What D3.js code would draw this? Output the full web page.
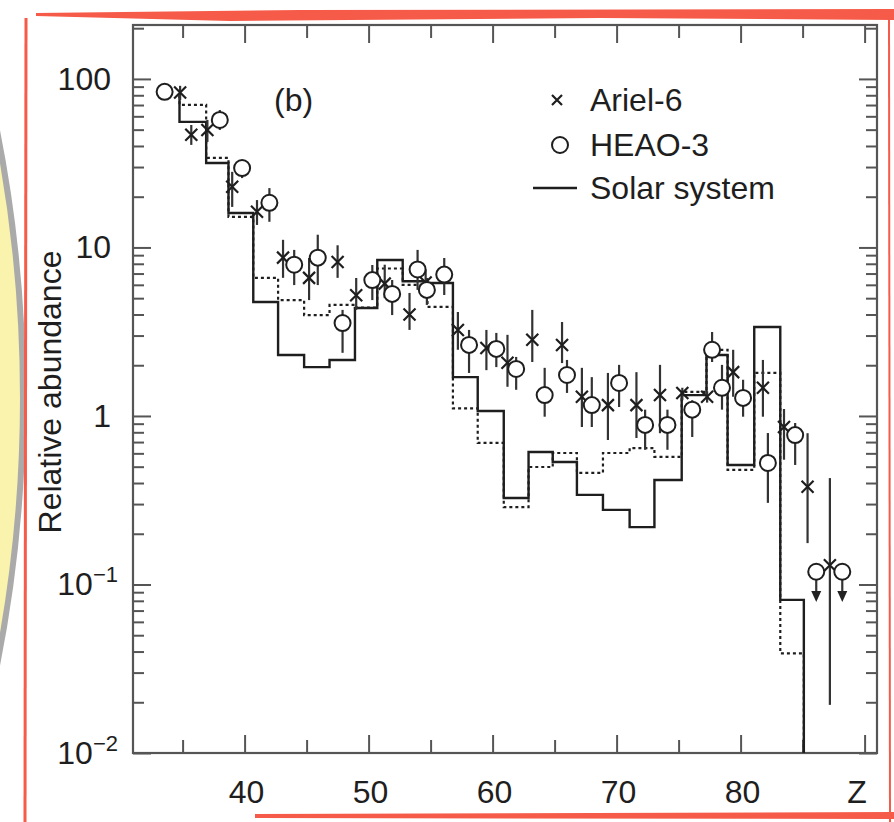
<!DOCTYPE html>
<html>
<head>
<meta charset="utf-8">
<script src="https://cdn.jsdelivr.net/npm/d3@7"></script>
<style>
  body { margin: 0; background: #fff; }
  svg { display: block; font-family: "Liberation Sans", Arial, sans-serif; }
</style>
</head>
<body>
<div id="chart"></div>
<script>
// Ariel-6 (crosses)
const arielZ = [34.8, 35.7, 37.0, 39.0, 41.0, 43.1, 45.2, 47.5, 49.0, 51.3, 53.3, 54.6, 57.2, 59.5, 61.2, 63.2, 65.6, 67.2, 69.3, 71.6, 73.5, 75.3, 77.3, 79.4, 81.8, 83.5, 85.4, 87.2];
const arielV = [83, 46.6, 49.8, 22.9, 16.3, 8.7, 6.6, 8.2, 5.2, 6.1, 4.0, 6.2, 3.24, 2.53, 2.07, 2.83, 2.64, 1.30, 1.16, 1.16, 1.33, 1.37, 1.30, 1.82, 1.47, 0.86, 0.38, 0.13];
const arielLo = [75, 40.6, 42.3, 17.4, 13.6, 6.6, 4.87, 6.6, 4.26, 5.0, 3.24, 5.2, 2.47, 1.87, 1.49, 2.09, 2.06, 0.86, 0.72, 0.74, 0.79, 1.24, 1.2, 1.30, 0.99, 0.55, 0.176, 0.0193];
const arielHi = [91, 53.3, 57.1, 28.1, 19.1, 11.1, 8.66, 10.3, 6.59, 7.9, 5.37, 7.4, 4.14, 3.24, 3.03, 4.26, 3.61, 1.93, 1.80, 1.82, 2.01, 1.47, 1.4, 2.47, 2.15, 1.1, 0.79, 0.428];

// HEAO-3 (open circles)
const heaoZ = [33.55, 38.0, 39.8, 42.0, 44.0, 45.9, 47.9, 50.3, 51.9, 53.95, 54.7, 56.1, 58.1, 60.3, 61.9, 64.2, 66.0, 68.0, 70.2, 72.3, 74.1, 76.1, 77.7, 78.5, 80.2, 82.2, 84.4];
const heaoV = [83.8, 57.1, 29.6, 18.4, 7.9, 8.7, 3.56, 6.4, 5.3, 7.4, 5.6, 6.9, 2.64, 2.50, 1.90, 1.33, 1.75, 1.16, 1.57, 0.885, 0.885, 1.09, 2.47, 1.47, 1.28, 0.526, 0.77];
const heaoLo = [83.8, 49.8, 25.8, 14.2, 5.98, 5.98, 2.37, 4.87, 3.97, 5.6, 4.56, 5.22, 1.80, 1.95, 1.43, 0.99, 1.37, 0.86, 1.13, 0.63, 0.63, 0.75, 2.09, 1.09, 0.99, 0.305, 0.512];
const heaoHi = [83.8, 65.4, 33.0, 22.5, 9.67, 11.9, 4.26, 7.87, 6.41, 9.67, 6.59, 8.66, 3.24, 3.11, 2.24, 1.93, 2.15, 1.70, 2.01, 1.09, 1.09, 1.24, 3.15, 2.01, 1.64, 0.792, 0.908];

// HEAO-3 upper limits
const limitZ = [86.1, 88.2];
const limitV = [0.119, 0.119];
const limitTip = [0.0787, 0.0787];

// histograms: bin edges in Z, level per bin
const binEdges = [34.75, 36.9, 38.7, 40.7, 42.7, 44.8, 46.85, 48.9, 50.7, 52.75, 54.75, 56.8, 58.8, 60.9, 62.9, 64.85, 66.8, 68.9, 71.05, 73.05, 75.25, 77.25, 78.95, 81.1, 83.2, 85.1];
const solarStart = 80;
const solarLevels = [55.6, 31.7, 16.0, 4.75, 2.30, 1.95, 2.15, 4.37, 8.43, 6.3, 6.15, 1.70, 1.07, 0.326, 0.611, 0.533, 0.340, 0.277, 0.219, 0.417, 1.33, 2.30, 0.512, 3.37, 0.081];
const dottedStart = 80;
const dottedLevels = [70.2, 34.0, 15.2, 6.6, 4.87, 3.97, 4.56, 4.4, 7.5, 6.0, 4.44, 1.11, 0.692, 0.288, 0.498, 0.603, 0.459, 0.603, 0.645, 0.571, 1.39, 2.47, 0.479, 1.80, 0.039];

const yTickVals = [100, 10, 1, 0.1, 0.01];
const yTickText = [["100", ""], ["10", ""], ["1", ""], ["10", "\u22121"], ["10", "\u22122"]];
const xTickVals = [40, 50, 60, 70, 80];

const width = 894;
const height = 822;
const ink = "#1e1e1e";
const fontSize = 32;

const svg = d3.select("#chart")
  .append("svg")
  .attr("width", width)
  .attr("height", height);

// scan decorations: yellow badge and red border
svg.append("circle")
  .attr("cx", -1353)
  .attr("cy", 398)
  .attr("r", 1376)
  .attr("fill", "#f9f3ae")
  .attr("stroke", "#aaaaaa")
  .attr("stroke-width", 6);

const red = "#f65a48";
svg.append("path")
  .attr("d", "M36,13 L300,10 L894,9 L894,20 L600,18 L230,21 L36,16 Z")
  .attr("fill", red);
svg.append("line").attr("x1", 26).attr("x2", 25).attr("y1", 18).attr("y2", 822)
  .attr("stroke", red).attr("stroke-width", 3);
svg.append("line").attr("x1", 889).attr("x2", 890).attr("y1", 18).attr("y2", 822)
  .attr("stroke", red).attr("stroke-width", 2);
svg.append("path")
  .attr("d", "M255,814 L894,812 L894,819 L255,818 Z")
  .attr("fill", red);

const x = d3.scaleLinear().domain([31, 91]).range([133, 877]);
const y = d3.scaleLog().domain([0.01, Math.pow(10, 2.32)]).range([753, 25]);

const [x0, x1] = x.range();
const [y0, y1] = y.range();

svg.append("defs").append("clipPath").attr("id", "plot-clip")
  .append("rect")
  .attr("x", x0).attr("y", y1)
  .attr("width", x1 - x0).attr("height", y0 - y1);

// ticks
const decades = yTickVals;
const yMinor = y.ticks().filter((d) => !decades.some((v) => Math.abs(v - d) < 1e-9));
const xMinor = d3.range(35, 90, 10);
const xMajor = d3.range(40, 91, 10);

const tickG = svg.append("g");

const addAxis = (axis, transform) => {
  const g = tickG.append("g").attr("transform", transform).call(axis);
  g.select(".domain").remove();
  g.selectAll("text").remove();
  g.selectAll("line").attr("stroke", "#555").attr("stroke-width", 2);
};

addAxis(d3.axisLeft(y).tickValues(decades).tickSize(-18), `translate(${x0},0)`);
addAxis(d3.axisLeft(y).tickValues(yMinor).tickSize(-11), `translate(${x0},0)`);
addAxis(d3.axisRight(y).tickValues(decades).tickSize(-18), `translate(${x1},0)`);
addAxis(d3.axisRight(y).tickValues(yMinor).tickSize(-11), `translate(${x1},0)`);
addAxis(d3.axisBottom(x).tickValues(xMajor).tickSize(-18), `translate(0,${y0})`);
addAxis(d3.axisBottom(x).tickValues(xMinor).tickSize(-13), `translate(0,${y0})`);
addAxis(d3.axisTop(x).tickValues(xMajor).tickSize(-18), `translate(0,${y1})`);
addAxis(d3.axisTop(x).tickValues(xMinor).tickSize(-13), `translate(0,${y1})`);

svg.append("rect")
  .attr("x", x0).attr("y", y1)
  .attr("width", x1 - x0).attr("height", y0 - y1)
  .attr("fill", "none")
  .attr("stroke", "#555")
  .attr("stroke-width", 2.2);

// tick labels
const yLab = svg.append("g")
  .attr("font-size", fontSize)
  .attr("fill", ink)
  .attr("text-anchor", "end");

yTickVals.forEach((v, i) => {
  const t = yLab.append("text")
    .attr("x", yTickText[i][1] ? 118 : 111)
    .attr("y", y(v) + 11);
  t.append("tspan").text(yTickText[i][0]);
  if (yTickText[i][1]) {
    t.append("tspan")
      .attr("font-size", 22)
      .attr("dy", -13)
      .text(yTickText[i][1]);
  }
});

svg.append("g")
  .attr("font-size", fontSize)
  .attr("fill", ink)
  .attr("text-anchor", "middle")
  .selectAll("text")
  .data(xTickVals)
  .join("text")
  .attr("x", (d) => x(d) + 2)
  .attr("y", 803)
  .text((d) => d);

svg.append("text")
  .attr("x", 857)
  .attr("y", 803)
  .attr("font-size", fontSize)
  .attr("fill", ink)
  .attr("text-anchor", "middle")
  .text("Z");

svg.append("text")
  .attr("transform", "translate(50,392) rotate(-90)")
  .attr("font-size", fontSize)
  .attr("fill", ink)
  .attr("text-anchor", "middle")
  .attr("dominant-baseline", "central")
  .text("Relative abundance");

svg.append("text")
  .attr("x", 274)
  .attr("y", 111)
  .attr("font-size", fontSize)
  .attr("fill", ink)
  .text("(b)");

// histograms
const plot = svg.append("g").attr("clip-path", "url(#plot-clip)");

const stepPoints = (start, levels) => {
  const pts = [[binEdges[0], start]];
  levels.forEach((v, i) => pts.push([binEdges[i], v]));
  const last = binEdges.length - 1;
  pts.push([binEdges[last], levels[levels.length - 1]]);
  pts.push([binEdges[last], 0.001]);
  return pts;
};

const stepLine = d3.line()
  .x((d) => x(d[0]))
  .y((d) => y(d[1]))
  .curve(d3.curveStepAfter);

plot.append("path")
  .attr("d", stepLine(stepPoints(dottedStart, dottedLevels)))
  .attr("fill", "none")
  .attr("stroke", ink)
  .attr("stroke-width", 2.2)
  .attr("stroke-dasharray", "3,3");

plot.append("path")
  .attr("d", stepLine(stepPoints(solarStart, solarLevels)))
  .attr("fill", "none")
  .attr("stroke", ink)
  .attr("stroke-width", 2.4);

// error bars
const bars = plot.append("g").attr("stroke", "#333").attr("stroke-width", 2.2);

bars.selectAll(".ariel-bar")
  .data(arielZ)
  .join("line")
  .attr("class", "ariel-bar")
  .attr("x1", (d) => x(d)).attr("x2", (d) => x(d))
  .attr("y1", (d, i) => y(arielLo[i]))
  .attr("y2", (d, i) => y(arielHi[i]));

bars.selectAll(".heao-bar")
  .data(heaoZ)
  .join("line")
  .attr("class", "heao-bar")
  .attr("x1", (d) => x(d)).attr("x2", (d) => x(d))
  .attr("y1", (d, i) => y(heaoLo[i]))
  .attr("y2", (d, i) => y(heaoHi[i]));

// upper limit arrows
const arrows = plot.append("g");
limitZ.forEach((z, i) => {
  const px = x(z);
  const tip = y(limitTip[i]);
  arrows.append("line")
    .attr("x1", px).attr("x2", px)
    .attr("y1", y(limitV[i])).attr("y2", tip - 8)
    .attr("stroke", "#333").attr("stroke-width", 2.2);
  arrows.append("path")
    .attr("d", `M${px - 5},${tip - 11}L${px + 5},${tip - 11}L${px},${tip}Z`)
    .attr("fill", "#222");
});

// markers
const crossPath = "M-6,-6L6,6M-6,6L6,-6";

plot.selectAll(".ariel")
  .data(arielZ)
  .join("path")
  .attr("class", "ariel")
  .attr("transform", (d, i) => `translate(${x(d)},${y(arielV[i])})`)
  .attr("d", crossPath)
  .attr("stroke", ink)
  .attr("stroke-width", 2.2)
  .attr("fill", "none");

plot.selectAll(".heao")
  .data(heaoZ.concat(limitZ))
  .join("circle")
  .attr("class", "heao")
  .attr("cx", (d) => x(d))
  .attr("cy", (d, i) => y(i < heaoV.length ? heaoV[i] : limitV[i - heaoV.length]))
  .attr("r", 8)
  .attr("fill", "#fff")
  .attr("stroke", ink)
  .attr("stroke-width", 2);

// legend
const legend = svg.append("g")
  .attr("font-size", fontSize)
  .attr("fill", ink);

legend.append("path")
  .attr("transform", "translate(557,100)")
  .attr("d", "M-5,-5L5,5M-5,5L5,-5")
  .attr("stroke", ink)
  .attr("stroke-width", 2.2);
legend.append("circle")
  .attr("cx", 560).attr("cy", 145).attr("r", 8)
  .attr("fill", "#fff").attr("stroke", ink).attr("stroke-width", 2);
legend.append("line")
  .attr("x1", 533).attr("x2", 577).attr("y1", 188).attr("y2", 188)
  .attr("stroke", ink).attr("stroke-width", 2.4);

[["Ariel-6", 100], ["HEAO-3", 145], ["Solar system", 188]].forEach(([label, cy]) => {
  legend.append("text")
    .attr("x", 590)
    .attr("y", cy + 11)
    .text(label);
});
</script>
</body>
</html>
